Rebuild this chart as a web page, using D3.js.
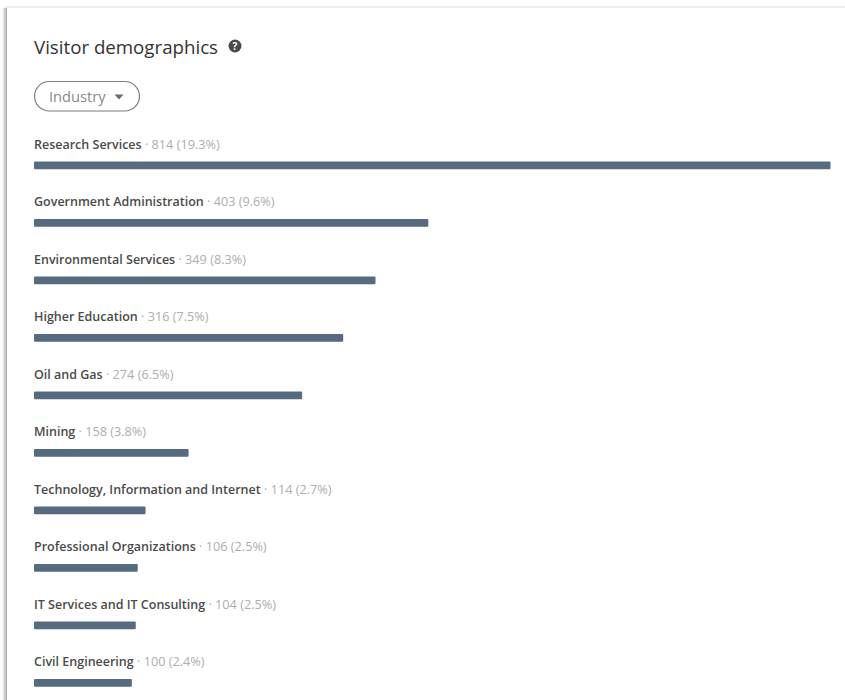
<!DOCTYPE html>
<html>
<head>
<meta charset="utf-8">
<script src="https://cdn.jsdelivr.net/npm/d3@7/dist/d3.min.js"></script>
<style>
  html, body { margin: 0; padding: 0; background: #fff; overflow: hidden; }
  svg { display: block; font-family: "Open Sans", "Noto Sans", sans-serif; }
</style>
</head>
<body>
<svg id="chart" width="845" height="700"></svg>
<script>
const industries = [
  "Research Services", "Government Administration", "Environmental Services",
  "Higher Education", "Oil and Gas", "Mining",
  "Technology, Information and Internet", "Professional Organizations",
  "IT Services and IT Consulting", "Civil Engineering"
];
const visitors = [814, 403, 349, 316, 274, 158, 114, 106, 104, 100];
const shares = ["19.3%", "9.6%", "8.3%", "7.5%", "6.5%", "3.8%", "2.7%", "2.5%", "2.5%", "2.4%"];

const svg = d3.select("#chart");

// Card edges: grey shadow down the left side, faint rule along the top
svg.append("rect").attr("x", 0).attr("y", 0).attr("width", 845).attr("height", 700).attr("fill", "#fff");
svg.append("rect").attr("x", 5).attr("y", 6).attr("width", 840).attr("height", 2).attr("fill", "#efefef");
const edge = svg.append("defs").append("linearGradient").attr("id", "cardEdge");
edge.append("stop").attr("offset", "0").attr("stop-color", "#fff");
edge.append("stop").attr("offset", "0.55").attr("stop-color", "#d2d2d2");
edge.append("stop").attr("offset", "1").attr("stop-color", "#a6a6a6");
svg.append("rect").attr("x", 2).attr("y", 8).attr("width", 5).attr("height", 692).attr("fill", "url(#cardEdge)");

// Heading with help icon
svg.append("text").attr("x", 34).attr("y", 54)
  .attr("font-size", 18.7).attr("fill", "#333").text("Visitor demographics");
const help = svg.append("g").attr("transform", "translate(235,46)");
help.append("circle").attr("r", 6.5).attr("fill", "#4a4a4a");
help.append("text").attr("text-anchor", "middle").attr("y", 3.6)
  .attr("font-size", 10).attr("font-weight", 700).attr("fill", "#fff").text("?");

// Filter pill
svg.append("rect").attr("x", 34.5).attr("y", 81.5).attr("width", 105).attr("height", 29.5).attr("rx", 14.75)
  .attr("fill", "#fff").attr("stroke", "#7d7d7d").attr("stroke-width", 1.2);
svg.append("text").attr("x", 49).attr("y", 102)
  .attr("font-size", 14.7).attr("fill", "#8a8a8a").text("Industry");
svg.append("path").attr("d", "M114.5 94.5h9l-4.5 5z").attr("fill", "#6a6a6a");

// Bars and their labels
const x = d3.scaleLinear().domain([0, d3.max(visitors)]).range([34, 830.5]);
const y = d3.scalePoint().domain(industries).range([144, 661.5]);

const rows = svg.append("g").selectAll("g").data(industries).join("g")
  .attr("transform", d => `translate(0,${y(d)})`);

const label = rows.append("text").attr("x", 34).attr("y", 4.5);
label.append("tspan").attr("font-size", 12.5).attr("font-weight", 600).attr("fill", "#4a4a4a").text(d => d);
label.append("tspan").attr("font-size", 12.7).attr("fill", "#adadad")
  .text((d, i) => ` · ${visitors[i]} (${shares[i]})`);

rows.append("rect")
  .attr("x", x(0)).attr("y", 17.5).attr("height", 7.8).attr("rx", 1)
  .attr("width", (d, i) => x(visitors[i]) - x(0))
  .attr("fill", "#566a80");
</script>
</body>
</html>
